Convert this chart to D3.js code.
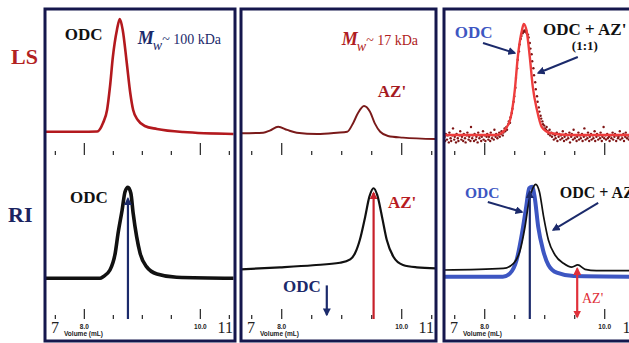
<!DOCTYPE html>
<html>
<head>
<meta charset="utf-8">
<script src="https://cdn.jsdelivr.net/npm/d3@7"></script>
<style>
  html, body { margin: 0; padding: 0; background: #fff; }
  svg { display: block; }
  .serif { font-family: 'Liberation Serif', 'DejaVu Serif', serif; }
  .sans { font-family: 'Liberation Sans', 'DejaVu Sans', sans-serif; }
</style>
</head>
<body>
<svg id="chart" width="629" height="343"></svg>
<script>
// [volume (mL), relative signal 0-100]

// light scattering, ODC alone
const lsOdc = [
  [7.33, 16.6], [7.93, 16.6], [8.23, 16.8], [8.33, 22.9], [8.40, 32.1], [8.45, 48.6],
  [8.50, 70.0], [8.57, 89.3], [8.62, 97.1], [8.67, 89.3], [8.74, 65.7], [8.80, 44.3],
  [8.85, 32.1], [8.93, 25.0], [9.05, 20.7], [9.26, 18.6], [9.71, 16.4], [10.58, 15.0],
];

// light scattering, AZ' alone
const lsAz = [
  [7.33, 15.5], [7.70, 15.9], [7.81, 17.4], [7.95, 20.2], [8.10, 17.9], [8.26, 15.9],
  [8.60, 15.0], [8.93, 15.9], [9.10, 16.6], [9.20, 22.9], [9.28, 30.0], [9.38, 35.0],
  [9.48, 30.9], [9.56, 22.6], [9.65, 16.6], [9.78, 13.6], [10.03, 12.4], [10.58, 11.4],
];

// light scattering, ODC reference trace in the mixture panel
const lsOdcRef = [
  [7.33, 14.3], [8.21, 14.3], [8.31, 16.4], [8.43, 25.0], [8.51, 46.4], [8.56, 70.0],
  [8.63, 89.3], [8.66, 93.6], [8.71, 87.9], [8.76, 70.0], [8.81, 48.6], [8.88, 32.1],
  [8.96, 20.0], [9.10, 15.7], [9.43, 14.3], [10.58, 14.3],
];

// light scattering, ODC + AZ' (1:1) raw points
const lsMixDots = [
  [7.34, 13], [7.35, 10], [7.36, 15], [7.38, 11], [7.39, 14], [7.41, 9], [7.42, 16], [7.44, 12],
  [7.45, 10], [7.47, 14], [7.48, 19], [7.50, 11], [7.51, 13], [7.53, 9], [7.54, 15], [7.56, 12],
  [7.57, 10], [7.59, 14], [7.60, 17], [7.62, 11], [7.63, 13], [7.65, 10], [7.66, 15], [7.68, 12],
  [7.69, 9], [7.71, 14], [7.72, 16], [7.74, 11], [7.75, 13], [7.77, 10], [7.78, 20], [7.80, 12],
  [7.81, 14], [7.83, 10], [7.84, 15], [7.86, 11], [7.87, 13], [7.89, 9], [7.90, 16], [7.92, 12],
  [7.93, 14], [7.95, 10], [7.96, 13], [7.98, 17], [7.99, 11], [8.01, 14], [8.02, 10], [8.04, 13],
  [8.05, 15], [8.07, 11], [8.08, 13], [8.10, 10], [8.11, 16], [8.13, 12], [8.14, 14], [8.16, 11],
  [8.17, 18], [8.19, 13], [8.20, 15], [8.22, 12], [8.23, 14], [8.25, 16], [8.26, 13], [8.28, 15],
  [8.29, 17], [8.31, 14], [8.32, 16], [8.34, 19], [8.35, 17],
  [8.37, 20], [8.38, 18], [8.40, 22], [8.41, 24], [8.43, 23], [8.44, 27], [8.46, 30], [8.47, 33],
  [8.49, 38], [8.50, 42], [8.52, 48], [8.53, 55], [8.55, 62], [8.56, 68], [8.58, 74], [8.59, 79],
  [8.61, 83], [8.62, 85], [8.64, 87], [8.65, 88], [8.67, 89], [8.68, 88], [8.70, 89], [8.71, 87],
  [8.73, 86], [8.74, 84], [8.76, 80], [8.77, 76], [8.79, 72], [8.80, 67], [8.82, 62], [8.83, 57],
  [8.85, 52], [8.86, 47], [8.88, 42], [8.89, 38], [8.91, 34], [8.92, 31], [8.94, 28], [8.95, 26],
  [8.97, 24], [8.98, 22], [9.00, 21], [9.01, 19], [9.03, 18], [9.04, 20], [9.06, 17], [9.07, 15],
  [9.09, 18], [9.10, 14], [9.12, 16],
  [9.13, 13], [9.15, 15], [9.16, 11], [9.18, 14], [9.19, 12], [9.21, 16], [9.22, 10], [9.24, 13],
  [9.25, 15], [9.27, 11], [9.28, 14], [9.30, 12], [9.31, 17], [9.33, 10], [9.34, 13], [9.36, 15],
  [9.37, 11], [9.39, 14], [9.40, 12], [9.42, 16], [9.43, 9], [9.45, 13], [9.46, 15], [9.48, 11],
  [9.49, 18], [9.51, 12], [9.52, 14], [9.54, 10], [9.55, 13], [9.57, 16], [9.58, 11], [9.60, 14],
  [9.61, 12], [9.63, 15], [9.64, 10], [9.66, 13], [9.67, 19], [9.69, 11], [9.70, 14], [9.72, 12],
  [9.73, 16], [9.75, 10], [9.76, 13], [9.78, 15], [9.79, 11], [9.81, 14], [9.82, 12], [9.84, 17],
  [9.85, 10], [9.87, 13], [9.88, 15], [9.90, 11], [9.91, 14], [9.93, 12], [9.94, 16], [9.96, 10],
  [9.97, 13], [9.99, 20], [10.00, 12], [10.02, 14], [10.03, 11], [10.05, 15], [10.06, 12], [10.08, 13],
  [10.09, 10], [10.11, 14], [10.12, 12], [10.14, 16], [10.15, 11], [10.17, 13], [10.18, 15], [10.20, 10],
  [10.21, 14], [10.23, 12], [10.24, 13], [10.26, 17], [10.27, 11], [10.29, 14], [10.30, 12], [10.32, 15],
  [10.33, 10], [10.35, 13], [10.36, 16], [10.38, 12], [10.39, 14], [10.41, 11], [10.42, 13], [10.44, 15],
];

// refractive index traces
const riOdc = [
  [7.33, 29.1], [8.28, 29.1], [8.33, 30.2], [8.45, 35.0], [8.54, 46.9], [8.59, 61.2],
  [8.66, 77.9], [8.71, 90.9], [8.76, 94.1], [8.81, 89.8], [8.85, 75.5], [8.91, 58.8],
  [8.97, 46.9], [9.08, 37.4], [9.26, 32.1], [9.60, 29.8], [10.58, 29.1],
];

const riAz = [
  [7.33, 35.5], [7.98, 36.9], [8.53, 38.4], [8.98, 40.2], [9.15, 42.6], [9.23, 46.9],
  [9.31, 56.4], [9.40, 73.1], [9.47, 87.4], [9.54, 93.4], [9.60, 88.6], [9.68, 73.1],
  [9.76, 56.4], [9.87, 44.5], [10.03, 38.6], [10.26, 36.9], [10.58, 36.2],
];

const riOdcRef = [
  [7.33, 30.2], [8.31, 30.2], [8.43, 32.6], [8.54, 42.1], [8.63, 61.2], [8.70, 80.2],
  [8.75, 93.4], [8.80, 94.5], [8.84, 87.4], [8.90, 65.9], [8.98, 49.3], [9.07, 38.6],
  [9.21, 33.1], [9.49, 30.7], [10.58, 30.2],
];

const riMix = [
  [7.33, 35.0], [8.32, 36.2], [8.49, 39.8], [8.60, 49.3], [8.68, 65.9], [8.75, 85.0],
  [8.81, 93.4], [8.86, 96.2], [8.92, 90.9], [8.99, 73.1], [9.07, 56.4], [9.18, 45.7],
  [9.32, 39.8], [9.46, 37.1], [9.56, 38.6], [9.68, 35.5], [9.87, 34.5], [10.58, 34.5],
];

// elution volumes marked by arrows
const peakVolumes = { odc: 8.76, az: 9.54 };

const majorTicks = [8.0, 10.0];
const minorTicks = [7.5, 8.5, 9.0, 9.5, 10.5];
const tickLabels = ['8.0', '10.0'];
const edgeLabels = ['7', '11'];
const rowLabels = ['LS', 'RI'];
const axisTitle = 'Volume (mL)';

const NAVY = '#1b2a6b';
const FRAME = '#15174d';
const RED = '#b3191e';
const BLUE = '#3d56c2';

const svg = d3.select('#chart');

const yLS = d3.scaleLinear().domain([0, 100]).range([155, 15]);
const yRI = d3.scaleLinear().domain([0, 100]).range([319, 179]);

const panels = [
  { left: 45, right: 235, span: 188.5 },
  { left: 241, right: 436, span: 195 },
  { left: 444, right: 640, span: 195 },
];
const frameTop = 9;
const frameBottom = 341;

const defs = svg.append('defs');

function addMarker(id, color) {
  defs
    .append('marker')
    .attr('id', id)
    .attr('viewBox', '0 0 10 10')
    .attr('refX', 8)
    .attr('refY', 5)
    .attr('markerWidth', 8)
    .attr('markerHeight', 8)
    .attr('markerUnits', 'userSpaceOnUse')
    .attr('orient', 'auto-start-reverse')
    .append('path')
    .attr('d', 'M0,0 L10,5 L0,10 z')
    .attr('fill', color);
}
addMarker('arrow-navy', NAVY);
addMarker('arrow-red', '#c8202a');
addMarker('arrow-lightred', '#e0303a');

//
// ROW LABELS
//

svg
  .append('text')
  .attr('class', 'serif')
  .attr('x', 11)
  .attr('y', 64)
  .attr('font-weight', 'bold')
  .attr('font-size', 22)
  .attr('fill', '#b22222')
  .text(rowLabels[0]);

svg
  .append('text')
  .attr('class', 'serif')
  .attr('x', 8)
  .attr('y', 222)
  .attr('font-weight', 'bold')
  .attr('font-size', 22)
  .attr('fill', '#1b2461')
  .text(rowLabels[1]);

panels.forEach((p, i) => {
  const x = d3
    .scaleLinear()
    .domain([7.33, 10.58])
    .range([p.left, p.left + p.span]);

  defs
    .append('clipPath')
    .attr('id', `clip-${i}`)
    .append('rect')
    .attr('x', p.left)
    .attr('y', frameTop)
    .attr('width', p.right - p.left)
    .attr('height', frameBottom - frameTop);

  const g = svg.append('g').attr('clip-path', `url(#clip-${i})`);

  //
  // AXES (ticks point up into the plot)
  //

  [yLS, yRI].forEach((y) => {
    const ax = g.append('g').attr('transform', `translate(0,${y(0)})`);

    ax.call(
      d3.axisTop(x).tickValues(majorTicks).tickSize(y === yLS ? 12 : 10).tickSizeOuter(0).tickFormat(''),
    );
    ax.append('g').call(
      d3.axisTop(x).tickValues(minorTicks).tickSize(4).tickSizeOuter(0).tickFormat(''),
    );
    ax.selectAll('g g .domain').remove();
    ax.selectAll('.domain').attr('stroke', '#555').attr('stroke-width', 1.2);
    ax.selectAll('.tick line').attr('stroke', '#333').attr('stroke-width', 1.3);
  });

  const below = g.append('g').attr('transform', `translate(0,${yRI(0)})`);
  below.call(
    d3
      .axisBottom(x)
      .tickValues(majorTicks)
      .tickSize(0)
      .tickPadding(5)
      .tickFormat((d, k) => tickLabels[k]),
  );
  below.select('.domain').remove();
  below
    .selectAll('.tick text')
    .attr('class', 'sans')
    .attr('font-family', null)
    .attr('font-weight', 'bold')
    .attr('font-size', 6.5)
    .attr('fill', '#222');
  below.attr('font-family', null);

  g.append('text')
    .attr('class', 'serif')
    .attr('x', p.left + 6)
    .attr('y', 333)
    .attr('font-size', 16)
    .attr('fill', '#222')
    .text(edgeLabels[0]);

  g.append('text')
    .attr('class', 'serif')
    .attr('x', p.right - 2)
    .attr('y', 333)
    .attr('text-anchor', 'end')
    .attr('font-size', 16)
    .attr('fill', '#222')
    .text(edgeLabels[1]);

  g.append('text')
    .attr('class', 'sans')
    .attr('x', p.left + 19)
    .attr('y', 336)
    .attr('font-weight', 'bold')
    .attr('font-size', 6.5)
    .attr('fill', '#222')
    .text(axisTitle);

  const lineFor = (y) =>
    d3
      .line()
      .curve(d3.curveMonotoneX)
      .x((d) => x(d[0]))
      .y((d) => y(d[1]));

  const drawLine = (data, y, color, width) =>
    g.append('path')
      .datum(data)
      .attr('fill', 'none')
      .attr('stroke', color)
      .attr('stroke-width', width)
      .attr('stroke-linejoin', 'round')
      .attr('d', lineFor(y));

  const vArrow = (vol, y, v0, v1, color, markerId, both) => {
    const a = g
      .append('line')
      .attr('x1', x(vol))
      .attr('x2', x(vol))
      .attr('y1', y(v0))
      .attr('y2', y(v1))
      .attr('stroke', color)
      .attr('stroke-width', 2.2)
      .attr('marker-end', `url(#${markerId})`);
    if (both) a.attr('marker-start', `url(#${markerId})`);
  };

  const arrow = (from, to, y) =>
    g.append('line')
      .attr('x1', x(from[0]))
      .attr('y1', y(from[1]))
      .attr('x2', x(to[0]))
      .attr('y2', y(to[1]))
      .attr('stroke', NAVY)
      .attr('stroke-width', 2)
      .attr('marker-end', 'url(#arrow-navy)');

  const label = (txt, vol, v, y, opts) =>
    g.append('text')
      .attr('class', 'serif')
      .attr('x', x(vol))
      .attr('y', y(v))
      .attr('font-weight', opts.weight || 'bold')
      .attr('font-size', opts.size || 17)
      .attr('fill', opts.color || '#111')
      .text(txt);

  const mwLabel = (vol, v, value, color) => {
    const t = g
      .append('text')
      .attr('class', 'serif')
      .attr('x', x(vol))
      .attr('y', yLS(v))
      .attr('fill', color);
    t.append('tspan').attr('font-weight', 'bold').attr('font-style', 'italic').attr('font-size', 18).text('M');
    t.append('tspan').attr('font-style', 'italic').attr('font-size', 14).attr('dx', -1).attr('dy', 6).text('w');
    t.append('tspan').attr('font-size', 14).attr('dy', -6).text(`~ ${value} kDa`);
  };

  if (i === 0) {
    drawLine(lsOdc, yLS, RED, 2.6);
    drawLine(riOdc, yRI, '#111', 3.6);
    vArrow(peakVolumes.odc, yRI, 0, 86, NAVY, 'arrow-navy');

    label('ODC', 7.67, 82, yLS, {});
    mwLabel(8.93, 79, 100, NAVY);
    label('ODC', 7.76, 83, yRI, {});
  }

  if (i === 1) {
    drawLine(lsAz, yLS, '#7a1a1a', 1.9);
    drawLine(riAz, yRI, '#111', 2.2);
    vArrow(peakVolumes.az, yRI, 0, 90, '#c8202a', 'arrow-red');
    vArrow(peakVolumes.odc, yRI, 24, 3, NAVY, 'arrow-navy');

    mwLabel(9.01, 78.6, 17, '#b01c22');
    label("AZ'", 9.61, 41.4, yLS, { color: '#a51a1f' });
    label("AZ'", 9.78, 79.3, yRI, { color: '#b81c22' });
    label('ODC', 8.03, 19.3, yRI, { color: NAVY });
  }

  if (i === 2) {
    g.append('g')
      .selectAll('circle')
      .data(lsMixDots)
      .join('circle')
      .attr('cx', (d) => x(d[0]))
      .attr('cy', (d) => yLS(d[1]))
      .attr('r', 1.2)
      .attr('fill', '#7e1414');
    drawLine(lsOdcRef, yLS, '#ee3d3d', 2.4);

    drawLine(riOdcRef, yRI, BLUE, 4);
    drawLine(riMix, yRI, '#111', 1.7);
    vArrow(peakVolumes.odc, yRI, 0, 91, NAVY, 'arrow-navy');
    vArrow(9.55, yRI, 1.5, 36, '#e0303a', 'arrow-lightred', true);

    label('ODC', 7.51, 83.6, yLS, { color: BLUE });
    label("ODC + AZ'", 8.98, 85.7, yLS, { size: 17 });
    label('(1:1)', 9.46, 75, yLS, { size: 13 });
    arrow([7.98, 80], [8.51, 72.9], yLS);
    arrow([9.56, 70], [8.90, 58.6], yLS);

    label('ODC', 7.68, 86.4, yRI, { color: BLUE, size: 15.5 });
    label("ODC + AZ'", 9.26, 86.4, yRI, { size: 16 });
    label("AZ'", 9.63, 11.4, yRI, { color: '#e0303a', size: 14, weight: 'normal' });
    arrow([8.06, 83.6], [8.63, 76.4], yRI);
    arrow([9.9, 82.9], [9.15, 63.6], yRI);
  }

  //
  // FRAME
  //

  svg
    .append('rect')
    .attr('x', p.left)
    .attr('y', frameTop)
    .attr('width', p.right - p.left)
    .attr('height', frameBottom - frameTop)
    .attr('fill', 'none')
    .attr('stroke', FRAME)
    .attr('stroke-width', 3);
});
</script>
</body>
</html>
